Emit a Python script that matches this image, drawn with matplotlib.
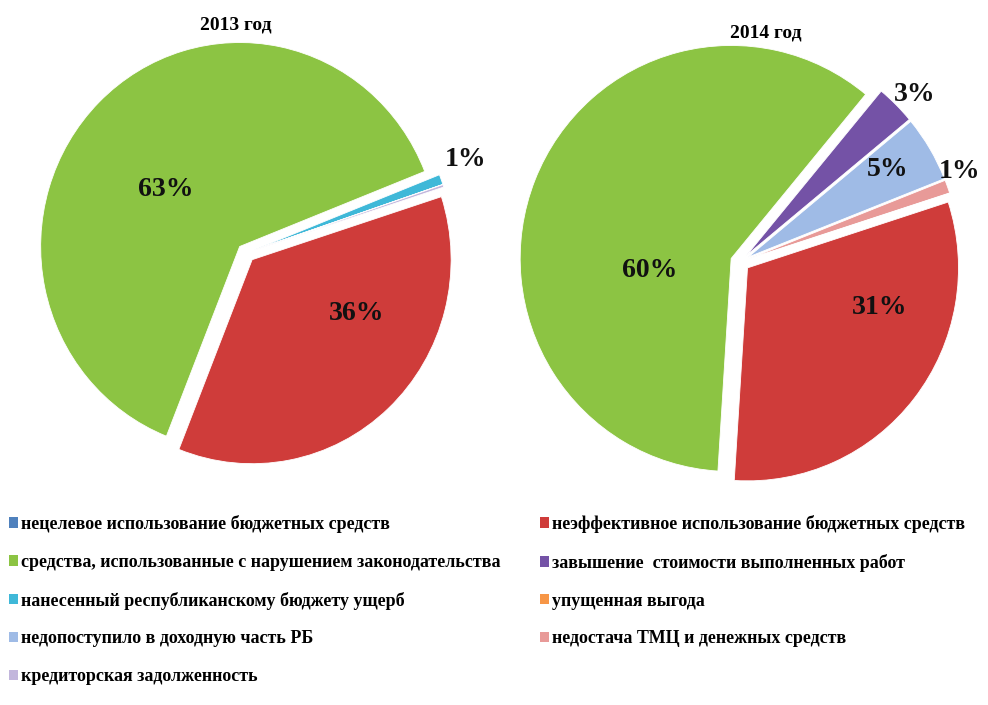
import numpy as np
import matplotlib
matplotlib.use('Agg')
import matplotlib.pyplot as plt

# categories (legend order, same order as the pie data)
categories = ['нецелевое использование бюджетных средств',
              'неэффективное использование бюджетных средств',
              'средства, использованные с нарушением законодательства',
              'завышение  стоимости выполненных работ',
              'нанесенный республиканскому бюджету ущерб',
              'упущенная выгода',
              'недопоступило в доходную часть РБ',
              'недостача ТМЦ и денежных средств',
              'кредиторская задолженность']
colors = ['#4f81bd', '#cf3c3a', '#8cc443', '#7452a6', '#3fb8d8',
          '#f79646', '#9fbbe6', '#e89a98', '#c2b6dc']

share_2013 = [0, 36, 63, 0, 0.8, 0, 0, 0, 0.2]
share_2014 = [0, 31, 60, 3, 0, 0, 5, 1, 0]
labels_2013 = ['', '36%', '63%', '', '1%', '', '', '', '']
labels_2014 = ['', '31%', '60%', '3%', '', '', '5%', '1%', '']

# label placement (radius, angle nudge in degrees) per slice
place_2013 = [None, (0.62, 20), (0.52, 6), None, (1.2, 3), None, None, None, None]
place_2014 = [None, (0.69, 21), (0.43, 25), (1.15, -1), None, None, (0.83, 2), (1.13, 3), None]

plt.rcParams['font.family'] = ['Liberation Serif', 'DejaVu Serif']
fig = plt.figure(figsize=(9.88, 7.05), dpi=100)

LIM = 1.15


def draw_pie(cx, cy, rx, ry, values, labels, place):
    w = 2 * LIM * rx
    h = 2 * LIM * ry
    ax = fig.add_axes([(cx - w / 2) / 988, 1 - (cy + h / 2) / 705, w / 988, h / 705])
    wedges, _ = ax.pie(values, colors=colors, startangle=18, counterclock=False,
                       explode=[0.045] * len(values), radius=1.0,
                       wedgeprops=dict(edgecolor='white', linewidth=0.6))
    for wd, lab, pl in zip(wedges, labels, place):
        if not lab:
            continue
        r, nudge = pl
        ang = np.deg2rad((wd.theta1 + wd.theta2) / 2 + nudge)
        ax.text(r * np.cos(ang), r * np.sin(ang), lab, ha='center',
                va='center_baseline', fontsize=20, fontweight='bold', color='#111111')
    ax.set_xlim(-LIM, LIM)
    ax.set_ylim(-LIM, LIM)
    ax.set_aspect('auto')
    ax.axis('off')
    return wedges


# 2013 pie
draw_pie(246, 253, 199, 204, share_2013, labels_2013, place_2013)
fig.text(236 / 988, 1 - 25 / 705, '2013 год', ha='center', va='center',
         fontsize=14, fontweight='bold')

# 2014 pie
draw_pie(740, 262, 211, 213, share_2014, labels_2014, place_2014)
fig.text(766 / 988, 1 - 33 / 705, '2014 год', ha='center', va='center',
         fontsize=14, fontweight='bold')

# legend, row-major order in two columns
order = [0, 2, 4, 6, 8, 1, 3, 5, 7]
handles = [plt.Rectangle((0, 0), 1, 1, facecolor=colors[i]) for i in order]
fig.legend(handles, [categories[i] for i in order], ncol=2, loc='upper left',
           bbox_to_anchor=(9 / 988, 1 - 515 / 705), frameon=False,
           prop=dict(size=13, weight='bold'), handlelength=0.5, handleheight=0.5,
           handletextpad=0.15, labelspacing=1.15, columnspacing=2.2, borderaxespad=0,
           borderpad=0)

fig.savefig('out.png', dpi=100, facecolor='white')
